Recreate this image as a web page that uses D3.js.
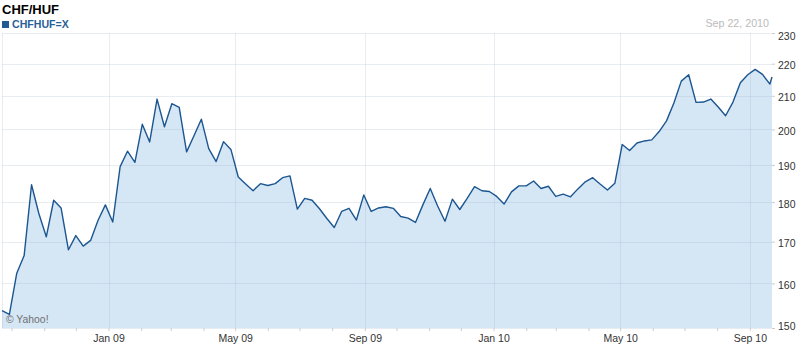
<!DOCTYPE html>
<html>
<head>
<meta charset="utf-8">
<script src="https://cdn.jsdelivr.net/npm/d3@7"></script>
<style>
body { margin: 0; background: #fff; }
svg { display: block; font-family: "Liberation Sans", Arial, sans-serif; }
</style>
</head>
<body>
<div id="chart"></div>
<script>
// weekly closes, CHF/HUF
const dates = [
  "2008-09-22","2008-09-29","2008-10-06","2008-10-13","2008-10-20","2008-10-27","2008-11-03","2008-11-10",
  "2008-11-17","2008-11-24","2008-12-01","2008-12-08","2008-12-15","2008-12-22","2008-12-29","2009-01-05",
  "2009-01-12","2009-01-19","2009-01-26","2009-02-02","2009-02-09","2009-02-16","2009-02-23","2009-03-02",
  "2009-03-09","2009-03-16","2009-03-23","2009-03-30","2009-04-06","2009-04-13","2009-04-20","2009-04-27",
  "2009-05-04","2009-05-11","2009-05-18","2009-05-25","2009-06-01","2009-06-08","2009-06-15","2009-06-22",
  "2009-06-29","2009-07-06","2009-07-13","2009-07-20","2009-07-27","2009-08-03","2009-08-10","2009-08-17",
  "2009-08-24","2009-08-31","2009-09-07","2009-09-14","2009-09-21","2009-09-28","2009-10-05","2009-10-12",
  "2009-10-19","2009-10-26","2009-11-02","2009-11-09","2009-11-16","2009-11-23","2009-11-30","2009-12-07",
  "2009-12-14","2009-12-21","2009-12-28","2010-01-04","2010-01-11","2010-01-18","2010-01-25","2010-02-01",
  "2010-02-08","2010-02-15","2010-02-22","2010-03-01","2010-03-08","2010-03-15","2010-03-22","2010-03-29",
  "2010-04-05","2010-04-12","2010-04-19","2010-04-26","2010-05-03","2010-05-10","2010-05-17","2010-05-24",
  "2010-05-31","2010-06-07","2010-06-14","2010-06-21","2010-06-28","2010-07-05","2010-07-12","2010-07-19",
  "2010-07-26","2010-08-02","2010-08-09","2010-08-16","2010-08-23","2010-08-30","2010-09-06","2010-09-13",
  "2010-09-20","2010-09-22"
];
const values = [
  153.8, 153.0, 162.4, 166.6, 184.6, 177.0, 171.2, 180.5,
  178.5, 168.0, 171.5, 168.9, 170.3, 175.3, 179.3, 174.9,
  189.5, 193.8, 190.7, 201.5, 196.4, 209.0, 200.8, 207.6,
  206.5, 193.6, 198.2, 203.0, 194.5, 190.9, 196.5, 194.3,
  186.7, 184.8, 183.0, 184.9, 184.4, 184.9, 186.5, 187.0,
  178.2, 181.0, 180.5, 178.3, 175.8, 173.5, 177.6, 178.4,
  175.4, 181.9, 177.6, 178.5, 178.8, 178.4, 176.3, 175.9,
  174.8, 179.3, 183.6, 179.0, 175.1, 180.8, 178.1, 181.0,
  184.1, 183.0, 182.8, 181.5, 179.5, 182.7, 184.3, 184.3,
  185.6, 183.6, 184.2, 181.5, 182.1, 181.4, 183.5, 185.4,
  186.5, 184.8, 183.2, 185.0, 195.7, 194.0, 196.1, 196.7,
  197.0, 199.4, 202.5, 207.8, 214.5, 216.5, 208.0, 208.1,
  209.0, 206.6, 204.0, 208.1, 214.0, 216.5, 218.2, 216.6,
  213.6, 215.8
];
const yTicks = [150, 160, 170, 180, 190, 200, 210, 220, 230];
const labelMonths = [0, 4, 8]; // Jan, May, Sep
const title = "CHF/HUF", symbol = "CHFHUF=X", asOf = "Sep 22, 2010", credit = "\u00a9 Yahoo!";

const width = 801, height = 348,
  plotLeft = 2, plotRight = 772, plotTop = 33, plotBottom = 328;

const parse = d3.timeParse("%Y-%m-%d");
const data = dates.map(function(d, i) { return { date: parse(d), value: values[i] }; });

const x = d3.scaleTime()
  .domain(d3.extent(data, function(d) { return d.date; }))
  .range([plotLeft, plotRight]);

const y = d3.scaleLog()
  .domain([yTicks[0], yTicks[yTicks.length - 1]])
  .range([plotBottom, plotTop]);

const svg = d3.select("#chart").append("svg")
  .attr("width", width)
  .attr("height", height);

// area under the line
svg.append("path")
  .datum(data)
  .attr("fill", "#d5e6f5")
  .attr("d", d3.area()
    .x(function(d) { return x(d.date); })
    .y0(plotBottom)
    .y1(function(d) { return y(d.value); }));

// grid
const grid = svg.append("g")
  .attr("stroke", "rgba(150,172,194,0.22)")
  .attr("stroke-width", 1)
  .attr("shape-rendering", "crispEdges");

grid.selectAll(".hline")
  .data(yTicks)
  .enter().append("line")
    .attr("x1", plotLeft).attr("x2", plotRight)
    .attr("y1", function(d) { return Math.round(y(d)) + 0.5; })
    .attr("y2", function(d) { return Math.round(y(d)) + 0.5; });

const months = x.ticks(d3.timeMonth.every(1));
grid.selectAll(".vline")
  .data(months.filter(function(d) { return labelMonths.indexOf(d.getMonth()) >= 0; }))
  .enter().append("line")
    .attr("x1", function(d) { return Math.round(x(d)) + 0.5; })
    .attr("x2", function(d) { return Math.round(x(d)) + 0.5; })
    .attr("y1", plotTop).attr("y2", plotBottom);

grid.append("line")
  .attr("x1", plotLeft + 0.5).attr("x2", plotLeft + 0.5)
  .attr("y1", plotTop).attr("y2", plotBottom);

// price line
svg.append("path")
  .datum(data)
  .attr("fill", "none")
  .attr("stroke", "#1c5690")
  .attr("stroke-width", 1.4)
  .attr("stroke-linejoin", "round")
  .attr("d", d3.line()
    .x(function(d) { return x(d.date); })
    .y(function(d) { return y(d.value); }));

// x axis
const fmt = d3.timeFormat("%b %y");
const xAxis = svg.append("g")
  .attr("transform", "translate(0," + plotBottom + ")")
  .call(d3.axisBottom(x)
    .ticks(d3.timeMonth.every(1))
    .tickSize(3)
    .tickPadding(4)
    .tickFormat(function(d) { return labelMonths.indexOf(d.getMonth()) >= 0 ? fmt(d) : ""; }));
xAxis.select(".domain").remove();
xAxis.selectAll("line").attr("stroke", "#cccccc");
xAxis.selectAll("text")
  .attr("fill", "#333")
  .style("font-size", "10.5px")
  .style("font-family", "'Liberation Sans', Arial, sans-serif");

// y axis
const yAxis = svg.append("g")
  .attr("transform", "translate(" + plotRight + ",0)")
  .call(d3.axisRight(y)
    .tickValues(yTicks)
    .tickSize(3)
    .tickPadding(3)
    .tickFormat(d3.format("d")));
yAxis.select(".domain").remove();
yAxis.selectAll("line").attr("stroke", "#cccccc");
yAxis.selectAll("text")
  .attr("fill", "#333")
  .attr("dy", function(d) { return d === 230 ? "0.59em" : d === 150 ? "0.11em" : "0.46em"; })
  .style("font-size", "10.5px")
  .style("font-family", "'Liberation Sans', Arial, sans-serif");

// header
svg.append("text")
  .attr("x", 2).attr("y", 14)
  .attr("font-size", "13px")
  .attr("font-weight", "bold")
  .attr("fill", "#000")
  .text(title);

svg.append("rect")
  .attr("x", 2).attr("y", 21)
  .attr("width", 7).attr("height", 7)
  .attr("fill", "#1f5a94");

svg.append("text")
  .attr("x", 12).attr("y", 28)
  .attr("font-size", "10.6px")
  .attr("font-weight", "bold")
  .attr("fill", "#2a5f98")
  .text(symbol);

svg.append("text")
  .attr("x", 769).attr("y", 27)
  .attr("text-anchor", "end")
  .attr("font-size", "10.7px")
  .attr("fill", "#bbbbbb")
  .text(asOf);

svg.append("text")
  .attr("x", 6).attr("y", 323)
  .attr("font-size", "10.4px")
  .attr("fill", "#707070")
  .text(credit);
</script>
</body>
</html>
